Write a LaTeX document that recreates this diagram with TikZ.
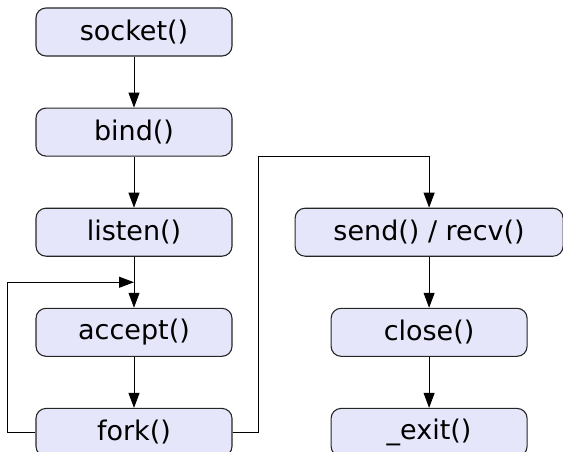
\documentclass[tikz,border=0pt]{standalone}
\usepackage{fontspec}
\setmainfont{DejaVu Sans}
\usetikzlibrary{arrows.meta, positioning, calc}

\definecolor{boxfill}{HTML}{E6E6FA}

\begin{document}
\begin{tikzpicture}[
    call/.style={rectangle, rounded corners=10pt, draw=black!85, line width=1.1pt, fill=boxfill, minimum width=196pt, minimum height=48pt, inner sep=0pt, font=\fontsize{27}{32}\selectfont},
    arrow/.style={-{Triangle[length=15pt, width=11pt]}, line width=0.9pt},
    node distance=51pt
]
\useasboundingbox (0,0) rectangle (563pt,-451pt);

% Server calls
\node[call] (socket) at (134pt,-32pt) {socket()};
\node[call, below=of socket] (bind) {bind()};
\node[call, below=of bind] (listen) {listen()};
\node[call, below=of listen] (accept) {accept()};
\node[call, below=of accept] (fork) {fork()};

% Child process
\node[call, right=62pt of listen, minimum width=268pt] (sendrecv) {send() / recv()};
\node[call, below=of sendrecv] (close) {close()};
\node[call, below=of close] (exit) {\_exit()};

% Flow
\draw[arrow] (socket) -- (bind);
\draw[arrow] (bind) -- (listen);
\draw[arrow] (listen) -- (accept);
\draw[arrow] (accept) -- (fork);
\draw[arrow] (sendrecv) -- (close);
\draw[arrow] (close) -- (exit);

% Loop back and hand over
\coordinate (merge) at ($(listen.south)!0.5!(accept.north)$);
\draw[arrow] (fork.west) -- ++(-28pt,0) |- (merge);
\draw[arrow] (fork.east) -- ++(26pt,0) coordinate (turn) -- (turn |- bind.south) -| (sendrecv.north);

\end{tikzpicture}
\end{document}
